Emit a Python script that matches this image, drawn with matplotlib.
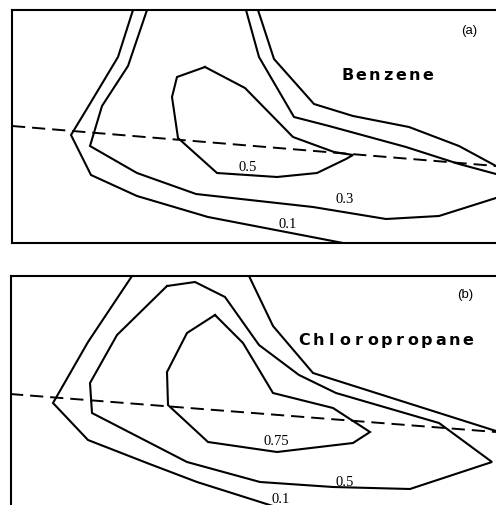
import numpy as np
import matplotlib
matplotlib.use('Agg')
from matplotlib import pyplot as plt

plt.rcParams['lines.scale_dashes'] = False

# Contour polylines (x, y in plot units, y grows downward)
# Panel (a): benzene
a_c01_left = [(133, 11), (118, 58), (88, 108), (71, 136), (91, 176), (137, 197), (208, 218), (343, 244)]
a_c01_right = [(258, 11), (274, 60), (314, 105), (353, 117), (409, 128), (459, 147), (496, 167)]
a_c03_left = [(147, 11), (128, 67), (102, 107), (90, 147), (137, 174), (196, 195), (250, 201),
              (313, 208), (386, 220), (439, 217), (496, 199)]
a_c03_right = [(246, 11), (259, 58), (294, 118), (329, 127), (406, 148), (459, 165), (496, 175)]
a_c05 = [(205, 68), (245, 89), (293, 138), (334, 153), (353, 156), (346, 160), (317, 174),
         (277, 178), (217, 174), (178, 139), (172, 98), (177, 78), (205, 68)]
a_dash = [(12, 127), (496, 167)]
a_labels = ['0.5', '0.3', '0.1']
a_label_pos = [(248, 168), (345, 200), (288, 225)]

# Panel (b): chloropropane
b_c01_left = [(132, 277), (88, 343), (53, 404), (88, 441), (147, 464), (197, 483), (276, 508)]
b_c01_right = [(249, 277), (273, 327), (313, 374), (496, 432)]
b_c05 = [(167, 287), (195, 283), (225, 298), (259, 346), (299, 376), (336, 394), (439, 424),
         (492, 463), (410, 490), (333, 488), (260, 483), (187, 463), (92, 414), (90, 384),
         (117, 336), (167, 287)]
b_c075 = [(215, 316), (243, 344), (273, 394), (333, 409), (370, 433), (353, 444), (277, 453),
          (208, 443), (168, 406), (167, 373), (187, 334), (215, 316)]
b_dash = [(10, 395), (496, 433)]
b_labels = ['0.75', '0.5', '0.1']
b_label_pos = [(276, 442), (345, 483), (281, 500)]

W, H = 496, 506
fig = plt.figure(figsize=(W / 100, H / 100), dpi=100)


def spaced_text(ax, s, xc, y, step, **kw):
    x0 = xc - step * (len(s) - 1) / 2
    for i, ch in enumerate(s):
        ax.text(x0 + i * step, y, ch, ha='center', va='baseline', **kw)


def draw_panel(ax, lines, dash, labels, label_pos):
    for pts in lines:
        p = np.array(pts)
        ax.plot(p[:, 0], p[:, 1], color='black', lw=1.5, solid_joinstyle='miter')
    d = np.array(dash)
    ax.plot(d[:, 0], d[:, 1], color='black', lw=1.4, dashes=(9.5, 5))
    for lab, (x, y) in zip(labels, label_pos):
        ax.text(x, y, lab, ha='center', va='center', fontsize=10.5,
                family='Liberation Serif')
    ax.set_xticks([])
    ax.set_yticks([])
    ax.spines['right'].set_visible(False)
    for s in ax.spines.values():
        s.set_linewidth(1.5)


# Top panel
ax_a = fig.add_axes([12 / W, 1 - 244 / H, (W - 12) / W, (244 - 11) / H])
ax_a.set_xlim(12, 496)
ax_a.set_ylim(244, 11)
draw_panel(ax_a, [a_c01_left, a_c01_right, a_c03_left, a_c03_right, a_c05],
           a_dash, a_labels, a_label_pos)
spaced_text(ax_a, 'Benzene', 387.5, 80, 13.3, fontsize=11.5, fontweight='bold', family='DejaVu Sans')
ax_a.text(469, 31, '(a)', ha='center', va='center', fontsize=9.5, family='Liberation Sans')

# Bottom panel
ax_b = fig.add_axes([11 / W, 0, (W - 11) / W, (H - 277) / H])
ax_b.set_xlim(11, 496)
ax_b.set_ylim(506, 277)
draw_panel(ax_b, [b_c01_left, b_c01_right, b_c05, b_c075], b_dash, b_labels, b_label_pos)
ax_b.spines['bottom'].set_visible(False)
spaced_text(ax_b, 'Chloropropane', 386, 345, 13.6, fontsize=11.5, fontweight='bold', family='DejaVu Sans')
ax_b.text(465, 295, '(b)', ha='center', va='center', fontsize=9.5, family='Liberation Sans')

fig.savefig('out.png', dpi=100)
